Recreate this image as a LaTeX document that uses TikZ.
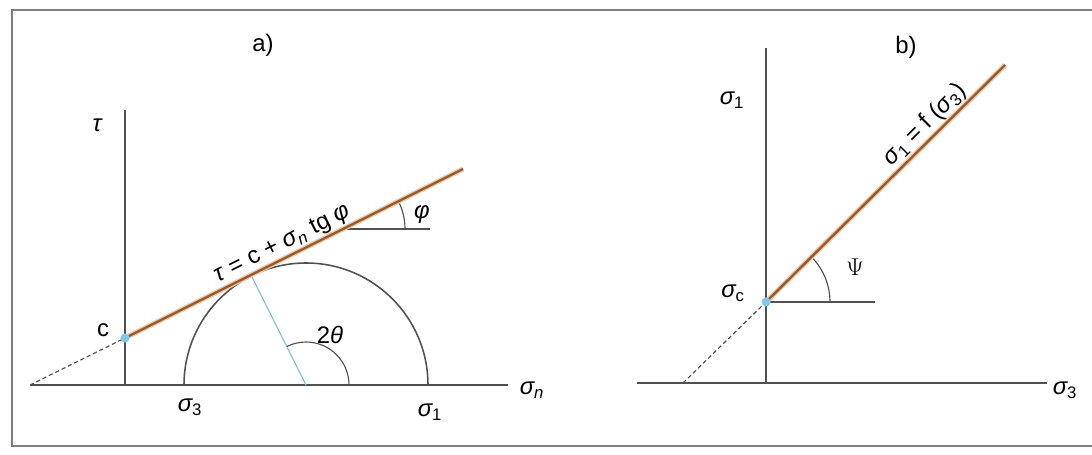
\documentclass[tikz,border=0pt]{standalone}
\usepackage{fontspec}
\setmainfont{Liberation Sans}
\usetikzlibrary{calc}
\definecolor{axisgray}{RGB}{80,80,80}
\definecolor{framegray}{RGB}{125,125,125}
\definecolor{envbrown}{RGB}{150,90,50}
\definecolor{envglow}{RGB}{242,200,160}
\definecolor{ptcyan}{RGB}{130,200,235}
\definecolor{radblue}{RGB}{140,195,225}
\newcommand{\gsig}[1]{{\itshape σ}\textsubscript{#1}}
\tikzset{
  axisline/.style={draw=axisgray, line width=1.1pt},
  thinline/.style={draw=axisgray, line width=0.8pt},
  envelope/.style={draw=envbrown, line width=1.7pt, preaction={draw=envglow, line width=3.6pt}},
  extension/.style={draw=axisgray, line width=0.8pt, dash pattern=on 3pt off 2pt},
  lbl/.style={font=\fontsize{17}{20}\selectfont, inner sep=1pt},
  ptdot/.style={circle, fill=ptcyan, inner sep=0pt, minimum size=6.5pt},
}
\begin{document}
\begin{tikzpicture}[x=0.025cm,y=0.025cm]
\useasboundingbox (0,0) rectangle (1092,454);
\draw[framegray, line width=1.4pt] (1100,444) -- (12,444) -- (12,8) -- (1100,8);

% ---------- a) ----------
\coordinate (Ldash) at (30,69);
\coordinate (Laxend) at (508,69);
\coordinate (Ltaubot) at (125,69);
\coordinate (Ltautop) at (125,344);
\coordinate (ctr) at (306,69);
\coordinate (cpos) at (125,116);
\coordinate (Lend) at (463,285);
\coordinate (phiA) at (343,225);
\coordinate (phiB) at (430,225);
\coordinate (tanpt) at ($(ctr)+(116.57:122)$);

\draw[axisline] (Ldash) -- (Laxend);
\draw[axisline] (Ltaubot) -- (Ltautop);
\draw[axisline] (184,69) arc (180:0:122);
\draw[radblue, line width=0.9pt] (ctr) -- (tanpt);
\draw[thinline] (349,69) arc (0:116.57:43);
\draw[thinline] (phiA) -- (phiB);
\draw[thinline] ($(phiA)+(62,0)$) arc (0:26.57:62);
\draw[extension] (Ldash) -- (cpos);
\draw[envelope] (cpos) -- (Lend);
\node[ptdot] (cpt) at (cpos) {};

\node[lbl] (taulbl) at (97,329) {\itshape τ};
\node[lbl] (clbl) at (103,124) {c};
\node[lbl] (snlbl) at (532,64) {\gsig{\itshape n}};
\node[lbl] (s3lbl) at (190,47) {\gsig{3}};
\node[lbl] (s1lbl) at (430,42) {\gsig{1}};
\node[lbl] (thlbl) at (330,119) {2{\itshape θ}};
\node[lbl] (philbl) at (422,239) {\itshape φ};
\node[lbl] (alabel) at (263,409) {a)};
\node[lbl, rotate=26.57, anchor=south, inner sep=2pt] (eqa) at (289,198) {{\itshape τ} = c + \gsig{\itshape n} tg {\itshape φ}};

% ---------- b) ----------
\coordinate (Rax0) at (637,71);
\coordinate (Rax1) at (1047,71);
\coordinate (Rv0) at (766,71);
\coordinate (Rv1) at (766,406);
\coordinate (Rdash) at (683,71);
\coordinate (scpos) at (766,152);
\coordinate (Rend) at (1005,389);
\coordinate (Rref) at (875,152);

\draw[axisline] (Rax0) -- (Rax1);
\draw[axisline] (Rv0) -- (Rv1);
\draw[thinline] (scpos) -- (Rref);
\draw[thinline] (830,152) arc (0:44.76:64);
\draw[extension] (Rdash) -- (scpos);
\draw[envelope] (scpos) -- (Rend);
\node[ptdot] (scpt) at (scpos) {};

\node[lbl] (rs3) at (1065,64) {\gsig{3}};
\node[lbl] (rs1) at (732,354) {\gsig{1}};
\node[lbl] (rsc) at (733,161) {\gsig{c}};
\node[lbl] (psilbl) at (855,187) {$\Psi$};
\node[lbl] (blabel) at (906,407) {b)};
\node[lbl, rotate=44.76, anchor=south, inner sep=2pt] (eqb) at (935,319) {\gsig{1} = f (\gsig{3})};
\end{tikzpicture}
\end{document}
